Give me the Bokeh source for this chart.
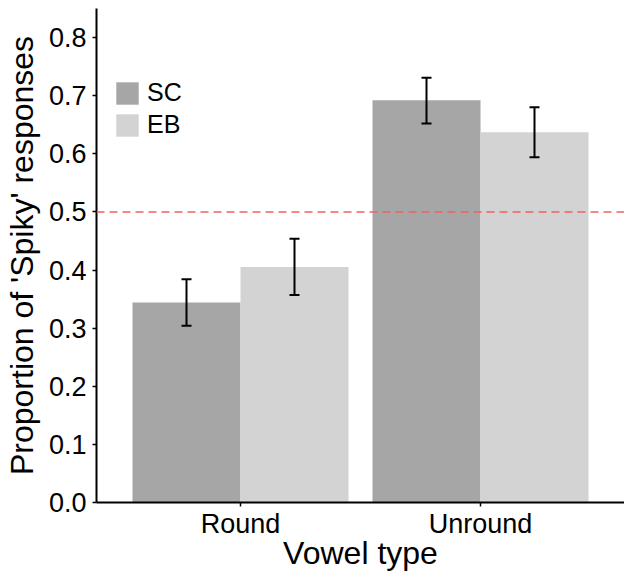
from bokeh.plotting import figure
from bokeh.models import ColumnDataSource, FactorRange, Range1d, Span, Whisker, Legend, LegendItem
from bokeh.transform import dodge
from bokeh.embed import file_html
from bokeh.resources import INLINE

vowel_types = ["Round", "Unround"]
groups = ["SC", "EB"]
sc_mean = [0.344, 0.692]
sc_lower = [0.304, 0.652]
sc_upper = [0.384, 0.731]
eb_mean = [0.405, 0.637]
eb_lower = [0.357, 0.594]
eb_upper = [0.454, 0.680]
chance_level = 0.5
y_ticks = [0.0, 0.1, 0.2, 0.3, 0.4, 0.5, 0.6, 0.7, 0.8]

colors = {"SC": "#a6a6a6", "EB": "#d3d3d3"}
FONT = "Liberation Sans"

src = ColumnDataSource(dict(
    x=vowel_types,
    sc=sc_mean, sc_lo=sc_lower, sc_hi=sc_upper,
    eb=eb_mean, eb_lo=eb_lower, eb_hi=eb_upper,
))

xr = FactorRange(factors=vowel_types, range_padding=0.1, range_padding_units="absolute")
p = figure(x_range=xr, y_range=Range1d(0, 0.85), width=624, height=573,
           output_backend="svg", toolbar_location=None,
           min_border_left=94, min_border_right=0, min_border_top=8, min_border_bottom=63)
p.outline_line_color = None
p.xgrid.visible = False
p.ygrid.visible = False
p.background_fill_color = "white"

bw = 0.45
r_sc = p.vbar(x=dodge("x", -bw / 2, range=xr), top="sc", width=bw, source=src,
              fill_color=colors["SC"], line_color=None)
r_eb = p.vbar(x=dodge("x", bw / 2, range=xr), top="eb", width=bw, source=src,
              fill_color=colors["EB"], line_color=None)

p.add_layout(Span(location=chance_level, dimension="width", line_color="#f46060",
                  line_dash="8 5", line_width=1.5, level="overlay"))

for key, off in (("sc", -bw / 2), ("eb", bw / 2)):
    w = Whisker(base=dodge("x", off, range=xr), upper=key + "_hi", lower=key + "_lo",
                source=src, line_color="black", line_width=2, level="overlay")
    w.upper_head.size = 10
    w.lower_head.size = 10
    w.upper_head.line_width = 2
    w.lower_head.line_width = 2
    w.upper_head.line_color = "black"
    w.lower_head.line_color = "black"
    p.add_layout(w)

for ax in (p.xaxis[0], p.yaxis[0]):
    ax.axis_line_color = "black"
    ax.axis_line_width = 2
    ax.major_tick_line_color = "black"
    ax.major_tick_line_width = 1.5
    ax.major_tick_in = 0
    ax.major_tick_out = 4
    ax.minor_tick_line_color = None
    ax.major_label_text_font = FONT
    ax.major_label_text_font_size = "27px"
    ax.major_label_text_color = "black"
    ax.axis_label_text_font = FONT
    ax.axis_label_text_font_size = "32px"
    ax.axis_label_text_font_style = "normal"
    ax.axis_label_text_color = "black"

p.yaxis.ticker = y_ticks
p.yaxis.major_label_overrides = {t: f"{t:.1f}" for t in y_ticks}
p.yaxis.axis_label = "Proportion of 'Spiky' responses"
p.yaxis.major_label_standoff = 6
p.yaxis.axis_label_standoff = 6
p.xaxis.axis_label = "Vowel type"
p.xaxis.major_label_standoff = 2
p.xaxis.axis_label_standoff = -7

legend = Legend(items=[LegendItem(label="SC", renderers=[r_sc]),
                       LegendItem(label="EB", renderers=[r_eb])],
                location=(17, 363), glyph_width=28, glyph_height=28, spacing=3,
                padding=0, margin=0, label_standoff=6,
                label_text_font=FONT, label_text_font_size="25px",
                label_text_color="black",
                background_fill_alpha=0, border_line_color=None)
p.add_layout(legend)

open("out.html", "w").write(file_html(p, INLINE))
